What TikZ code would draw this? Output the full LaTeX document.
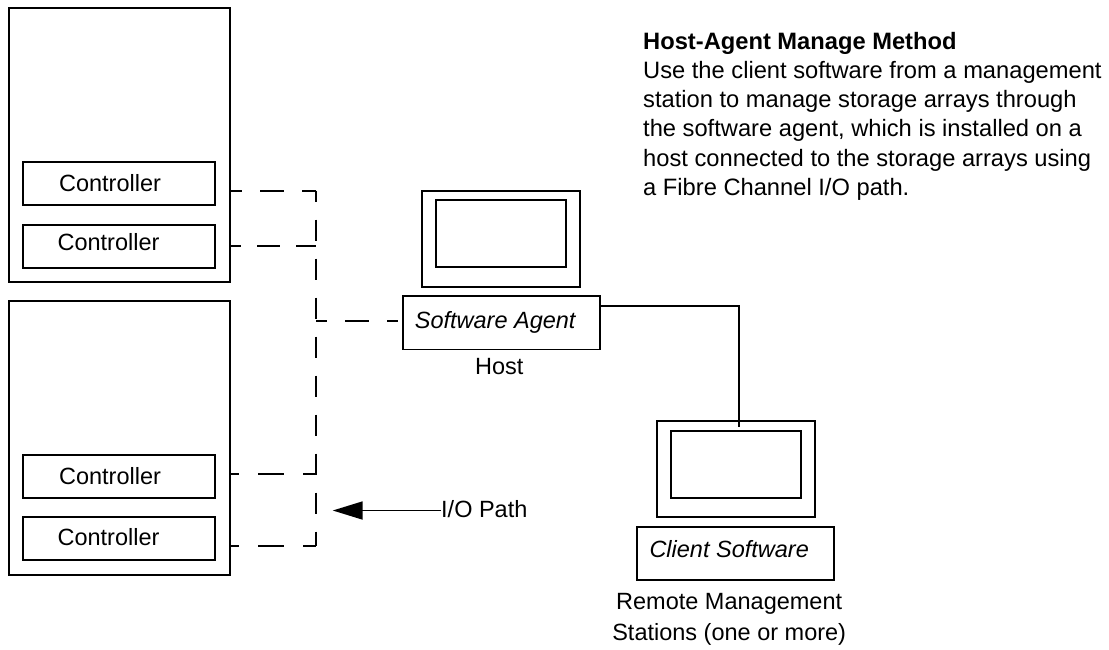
\documentclass[tikz,border=0pt]{standalone}
\usepackage{fontspec}
\setmainfont{Liberation Sans}
\usetikzlibrary{arrows.meta, positioning}

\begin{document}
\begin{tikzpicture}[
      x=1pt, y=-1pt,
      box/.style={draw, line width=1.8pt, outer sep=0pt, inner sep=0pt, anchor=north west},
      cabinet/.style={box, minimum width=221pt, minimum height=274pt},
      controller/.style={box, minimum width=192.5pt, minimum height=43pt},
      ctrllabel/.style={font=\fontsize{23.5}{28}\selectfont, inner sep=0pt},
      computer/.style={box, minimum width=158pt, minimum height=96pt},
      screen/.style={box, minimum width=130.5pt, minimum height=67pt},
      swbox/.style={box, minimum width=197pt, minimum height=53.5pt, font=\fontsize{23.5}{28}\selectfont\itshape},
      caption/.style={align=center, inner sep=0pt, font=\fontsize{23.5}{30.5}\selectfont},
      iopath/.style={line width=1.8pt},
      link/.style={line width=1.8pt},
      arrow/.style={line width=1.8pt, -{Triangle[length=30pt, width=18pt]}}
    ]
    \useasboundingbox (0,0) rectangle (1109,649);
    % storage arrays
    \node[cabinet] (arrayA) at (9,8) {};
    \node[cabinet, below=19pt of arrayA] (arrayB) {};
    \node[controller] (ctrlA) at (22.7,162) {};
    \node[controller, below=20pt of ctrlA] (ctrlB) {};
    \node[controller] (ctrlC) at (22.7,455) {};
    \node[controller, below=19pt of ctrlC] (ctrlD) {};
    \node[ctrllabel] (ctrlAtext) at (110,183) {Controller};
    \node[ctrllabel] (ctrlBtext) at (108.5,242) {Controller};
    \node[ctrllabel] (ctrlCtext) at (110,476) {Controller};
    \node[ctrllabel] (ctrlDtext) at (108.5,537) {Controller};

    % host
    \node[computer] (hostcase) at (421.7,191) {};
    \node[screen] (hostscreen) at (435.7,200) {};
    \node[swbox] (agent) at (402.7,296) {\hspace*{-12pt}Software Agent};
    \node[caption, below=9pt of agent, xshift=-2pt] (hostlabel) {Host};

    % station
    \node[computer] (stationcase) at (656.7,421) {};
    \node[screen] (stationscreen) at (670.7,431) {};
    \node[swbox] (client) at (636.7,526.7) {\hspace*{-12pt}\raisebox{8pt}{Client Software}};
    \node[caption, below=13pt of client, xshift=-6pt] (stationlabel) {Remote Management\\Stations (one or more)};

    % text
    \node[anchor=north west, align=left, inner sep=0pt, font=\fontsize{23.7}{29.2}\selectfont] (method) at (643,32)
      {\textbf{Host-Agent Manage Method}\\Use the client software from a management\\station to manage storage arrays through\\the software agent, which is installed on a\\host connected to the storage arrays using\\a Fibre Channel I/O path.};

    % I/O path
    \coordinate (busT) at (316,190.7);
    \coordinate (busB) at (316,545.7);
    \coordinate (busM) at (316,321);
    \coordinate (stubA) at (231,190.7);
    \coordinate (stubB) at (231,246);
    \coordinate (stubC) at (231,474.3);
    \coordinate (stubD) at (231,545.7);
    \coordinate (agentend) at (398,321);
    \draw[iopath, dash pattern=on 21pt off 18pt, dash phase=10pt] (busT) -- (busB);
    \draw[iopath, dash pattern=on 24pt off 18pt, dash phase=13pt] (stubA) -- (busT);
    \draw[iopath, dash pattern=on 23pt off 16pt, dash phase=13pt] (stubB) -- (stubB -| busT);
    \draw[iopath, dash pattern=on 26pt off 19pt, dash phase=18pt] (stubC) -- (stubC -| busT);
    \draw[iopath, dash pattern=on 26pt off 19pt, dash phase=18pt] (stubD) -- (busB);
    \draw[iopath, dash pattern=on 24pt off 18pt, dash phase=13pt] (busM) -- (agentend);

    % links
    \coordinate (bend) at (739,306);
    \coordinate (stationend) at (739,427);
    \draw[link] (agent.east |- bend) -- (bend) -- (stationend);
    \coordinate (iotip) at (332.7,510.5);
    \node[font=\fontsize{23.5}{28}\selectfont, anchor=west, inner sep=0pt] (iolabel) at (441,509) {I/O Path};
    \draw[arrow] (iolabel.west |- iotip) -- (iotip);
  \end{tikzpicture}
\end{document}
